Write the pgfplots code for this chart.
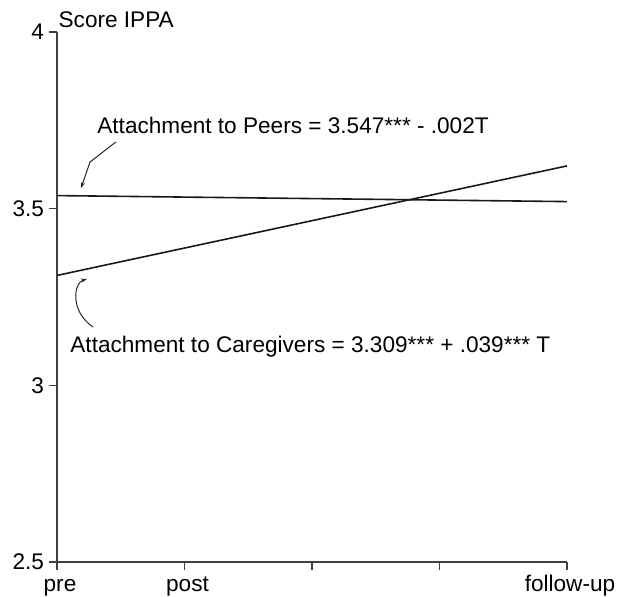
\documentclass[border=0pt]{standalone}
\usepackage{pgfplots}
\pgfplotsset{compat=1.18}
\usepackage{fontspec}
\setmainfont{Liberation Sans}
\usetikzlibrary{calc,arrows.meta}

\begin{document}
\begin{tikzpicture}
\begin{axis}[
    scale only axis,
    width=255pt, height=265pt,
    xmin=0, xmax=8, ymin=2.5, ymax=4,
    axis lines*=left,
    axis line style={black!75, line width=0.7pt},
    xtick={0,2,4,6,8},
    xticklabels={pre,post,,,follow-up},
    ytick={2.5,3,3.5,4},
    yticklabels={2.5,3,3.5,4},
    tick align=outside,
    major tick length=4pt,
    tick style={black!75, line width=0.6pt},
    every tick label/.append style={font=\fontsize{11.3}{13}\selectfont},
    xticklabel style={anchor=base, inner sep=0pt, yshift=-10.8pt, xshift=1.5pt},
    yticklabel style={xshift=1pt},
    clip=false,
]
% fitted lines
\addplot[black!90, line width=0.8pt] coordinates {(0,3.537) (8,3.520)};
\addplot[black!90, line width=0.8pt] coordinates {(0,3.311) (8,3.621)};

\node[anchor=base west, font=\fontsize{11.3}{13}\selectfont, inner sep=0pt]
    at (axis cs:0.02,4.014) {Score IPPA};
\node[anchor=base west, font=\fontsize{11.3}{13}\selectfont, inner sep=0pt]
    at (axis cs:0.627,3.714) {Attachment to Peers = 3.547*** - .002T};
\node[anchor=base west, font=\fontsize{11.3}{13}\selectfont, inner sep=0pt]
    at (axis cs:0.204,3.094) {Attachment to Caregivers = 3.309*** + .039*** T};

\draw[black!85, line width=0.5pt, -{Stealth[length=3pt,width=2pt]}]
    (axis cs:0.925,3.689) -- (axis cs:0.518,3.632) -- (axis cs:0.376,3.558);
\draw[black!85, line width=0.5pt, -{Stealth[length=3pt,width=2pt]}]
    (axis cs:0.565,3.165) .. controls (axis cs:0.2,3.21) and (axis cs:0.26,3.29) .. (axis cs:0.471,3.301);
\end{axis}
\pgfresetboundingbox
\path ($(current axis.south west)+(-28.5pt,-17.5pt)$) rectangle ($(current axis.north east)+(26pt,16pt)$);
\end{tikzpicture}
\end{document}
